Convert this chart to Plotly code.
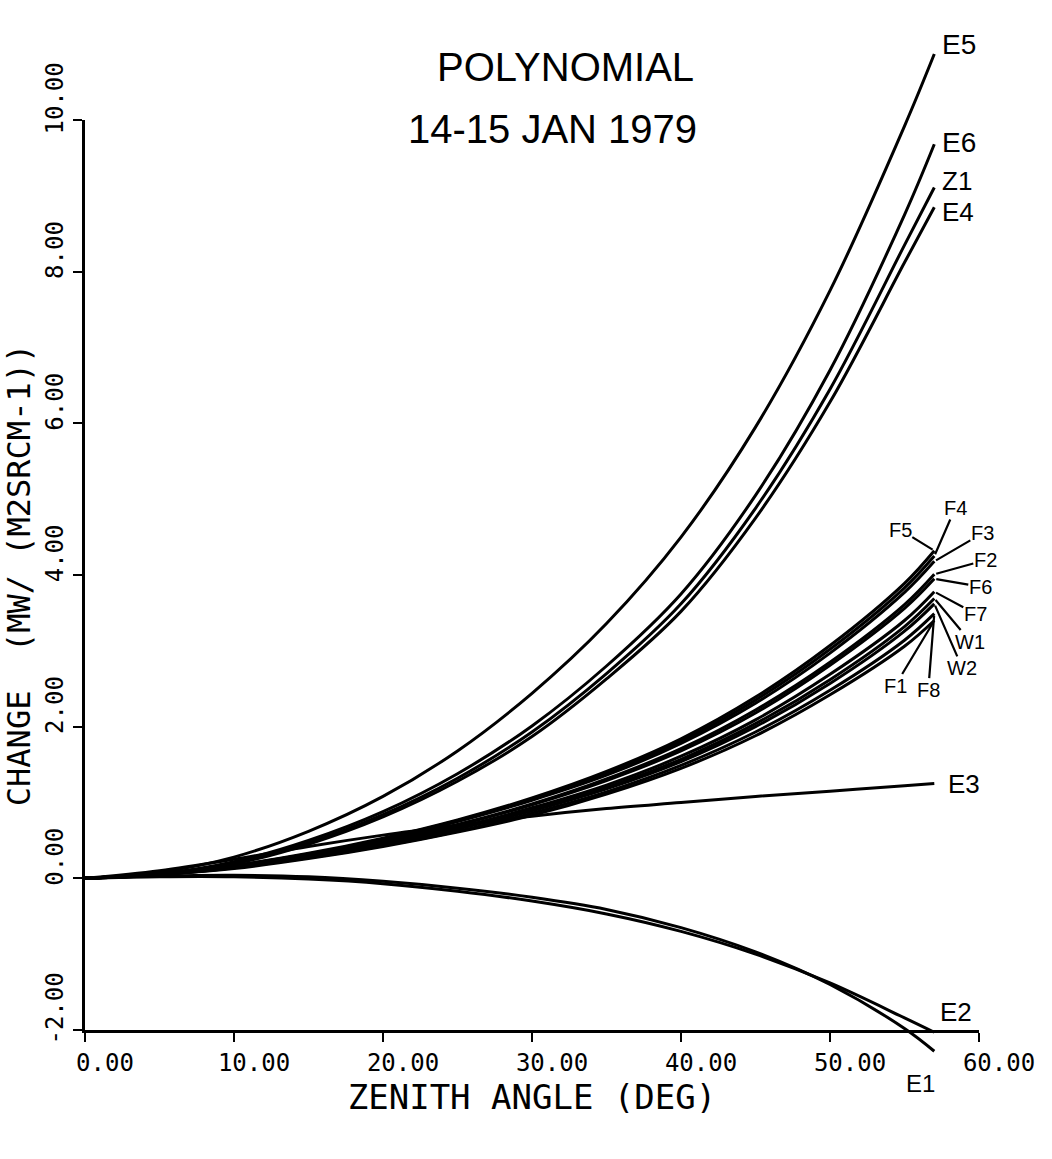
import plotly.graph_objects as go

# ---------------- data (de-skewed to its own axes) ----------------
angle = [0, 5, 10, 15, 20, 25, 30, 35, 40, 45, 50, 55, 57]

E5 = [0, 0.08, 0.28, 0.62, 1.08, 1.68, 2.44, 3.36, 4.50, 5.95, 7.75, 9.92, 10.87]
E6 = [0, 0.06, 0.22, 0.50, 0.88, 1.38, 2.01, 2.80, 3.75, 5.05, 6.70, 8.75, 9.68]
Z1 = [0, 0.05, 0.20, 0.47, 0.84, 1.32, 1.93, 2.70, 3.62, 4.88, 6.45, 8.35, 9.11]
E4 = [0, 0.05, 0.19, 0.45, 0.81, 1.28, 1.87, 2.63, 3.52, 4.75, 6.28, 8.12, 8.85]

F5 = [0, 0.06, 0.17, 0.33, 0.53, 0.77, 1.06, 1.41, 1.84, 2.39, 3.07, 3.89, 4.32]
F4 = [0, 0.06, 0.17, 0.32, 0.52, 0.76, 1.04, 1.39, 1.81, 2.35, 3.02, 3.83, 4.25]
F3 = [0, 0.06, 0.16, 0.32, 0.51, 0.75, 1.03, 1.36, 1.78, 2.31, 2.97, 3.77, 4.18]
F2 = [0, 0.06, 0.16, 0.31, 0.49, 0.71, 0.98, 1.31, 1.71, 2.22, 2.85, 3.61, 4.01]
F6 = [0, 0.05, 0.16, 0.30, 0.48, 0.70, 0.97, 1.29, 1.68, 2.18, 2.81, 3.56, 3.95]
F7 = [0, 0.05, 0.15, 0.29, 0.46, 0.67, 0.93, 1.23, 1.61, 2.09, 2.69, 3.40, 3.78]
W1 = [0, 0.05, 0.15, 0.28, 0.45, 0.66, 0.91, 1.20, 1.57, 2.04, 2.62, 3.32, 3.69]
W2 = [0, 0.05, 0.14, 0.28, 0.44, 0.65, 0.89, 1.18, 1.54, 2.00, 2.57, 3.26, 3.62]
F8 = [0, 0.05, 0.14, 0.27, 0.43, 0.62, 0.86, 1.14, 1.49, 1.93, 2.48, 3.14, 3.49]
F1 = [0, 0.05, 0.13, 0.26, 0.42, 0.61, 0.83, 1.11, 1.45, 1.88, 2.42, 3.06, 3.40]

E3 = [0, 0.10, 0.25, 0.42, 0.57, 0.70, 0.82, 0.92, 1.00, 1.08, 1.15, 1.22, 1.25]
E2 = [0, 0.02, 0.02, -0.01, -0.07, -0.17, -0.30, -0.47, -0.70, -1.00, -1.38, -1.84, -2.03]
E1 = [0, 0.03, 0.04, 0.02, -0.04, -0.13, -0.25, -0.41, -0.65, -0.97, -1.40, -1.98, -2.28]

x_ticks = [0, 10, 20, 30, 40, 50, 60]
x_ticktext = ["0.00", "10.00", "20.00", "30.00", "40.00", "50.00", "60.00"]
y_ticks = [-2, 0, 2, 4, 6, 8, 10]
y_ticktext = ["-2.00", "0.00", "2.00", "4.00", "6.00", "8.00", "10.00"]

series = {
    "E5": E5, "E6": E6, "Z1": Z1, "E4": E4,
    "F5": F5, "F4": F4, "F3": F3, "F2": F2, "F6": F6,
    "F7": F7, "W1": W1, "W2": W2, "F8": F8, "F1": F1,
    "E3": E3, "E2": E2, "E1": E1,
}

# ---------------- layout geometry ----------------
W, H = 1052, 1159
X0_PX, X60_PX = 85, 979      # pixel of x=0 and x=60
Y10_PX, YM2_PX = 120, 1030   # pixel of y=10 and y=-2
sx = (X60_PX - X0_PX) / 60.0
sy = (YM2_PX - Y10_PX) / 12.0
data_xrange = [(0 - X0_PX) / sx, (W - X0_PX) / sx]
data_yrange = [10 - (H - Y10_PX) / sy, 10 + Y10_PX / sy]

MONO = "DejaVu Sans Mono"
HAND = "Liberation Sans"

fig = go.Figure()

for name, vals in series.items():
    fig.add_trace(go.Scatter(
        x=angle, y=vals, mode="lines", name=name,
        line=dict(color="black", width=3, shape="spline", smoothing=1.0),
        showlegend=False, hoverinfo="skip",
        xaxis="x", yaxis="y",
    ))

# empty trace to carry the visible axes
fig.add_trace(go.Scatter(x=[], y=[], xaxis="x2", yaxis="y2", showlegend=False))

# ---------------- curve labels ----------------
plain_labels = {
    "E5": dict(xanchor="left", xshift=6, yshift=10, size=28),
    "E6": dict(xanchor="left", xshift=6, yshift=2, size=28),
    "Z1": dict(xanchor="left", xshift=6, yshift=6, size=26),
    "E4": dict(xanchor="left", xshift=6, yshift=-5, size=26),
    "E3": dict(xanchor="left", xshift=12, yshift=0, size=26),
    "E2": dict(xanchor="left", xshift=4, yshift=20, size=26),
    "E1": dict(xanchor="center", xshift=-14, yshift=-32, size=24),
}
arrow_labels = {
    "F5": (-34, -21), "F4": (21, -48), "F3": (48, -28), "F2": (51, -14),
    "F6": (46, 8), "F7": (41, 22), "W1": (36, 43), "W2": (28, 64),
    "F8": (-6, 76), "F1": (-39, 65),
}

for name, st in plain_labels.items():
    vals = series[name]
    fig.add_annotation(
        x=angle[-1], y=vals[-1], xref="x", yref="y", text=name,
        showarrow=False, xanchor=st["xanchor"], yanchor="middle",
        xshift=st["xshift"], yshift=st["yshift"],
        font=dict(family=HAND, size=st["size"], color="black"),
    )

for name, (ax, ay) in arrow_labels.items():
    vals = series[name]
    fig.add_annotation(
        x=angle[-1], y=vals[-1], xref="x", yref="y", text=name,
        showarrow=True, arrowhead=0, arrowwidth=2.2, arrowcolor="black",
        ax=ax, ay=ay, standoff=2, borderpad=0,
        font=dict(family=HAND, size=20, color="black"),
    )

# ---------------- titles ----------------
fig.add_annotation(x=565 / W, y=1 - 43 / H, xref="paper", yref="paper",
                   text="POLYNOMIAL", showarrow=False,
                   font=dict(family=HAND, size=40, color="black"))
fig.add_annotation(x=552 / W, y=1 - 105 / H, xref="paper", yref="paper",
                   text="14-15 JAN 1979", showarrow=False,
                   font=dict(family=HAND, size=40, color="black"))

fig.update_layout(
    width=W, height=H,
    margin=dict(l=0, r=0, t=0, b=0),
    paper_bgcolor="white",
    plot_bgcolor="rgba(0,0,0,0)",
    xaxis=dict(domain=[0, 1], range=data_xrange, visible=False, fixedrange=True),
    yaxis=dict(domain=[0, 1], range=data_yrange, visible=False, fixedrange=True),
    xaxis2=dict(
        domain=[X0_PX / W, X60_PX / W], range=[0, 60], anchor="y2",
        showline=True, linecolor="black", linewidth=3,
        ticks="outside", ticklen=9, tickwidth=2, tickcolor="black",
        tickvals=x_ticks, ticktext=x_ticktext, ticklabelshift=20,
        tickfont=dict(family=MONO, size=24, color="black"),
        showgrid=False, zeroline=False, automargin=False,
        title=dict(text="ZENITH ANGLE (DEG)", standoff=4,
                   font=dict(family=MONO, size=34, color="black")),
    ),
    yaxis2=dict(
        domain=[(H - YM2_PX) / H, (H - Y10_PX) / H], range=[-2, 10], anchor="x2",
        showline=True, linecolor="black", linewidth=3,
        ticks="outside", ticklen=9, tickwidth=2, tickcolor="black",
        tickvals=y_ticks, ticktext=y_ticktext, tickangle=-90, ticklabelshift=-18,
        tickfont=dict(family=MONO, size=24, color="black"),
        showgrid=False, zeroline=False, automargin=False,
        title=dict(text="CHANGE  (MW/ (M2SRCM-1))", standoff=4,
                   font=dict(family=MONO, size=32, color="black")),
    ),
)

fig.write_html("out.html")
